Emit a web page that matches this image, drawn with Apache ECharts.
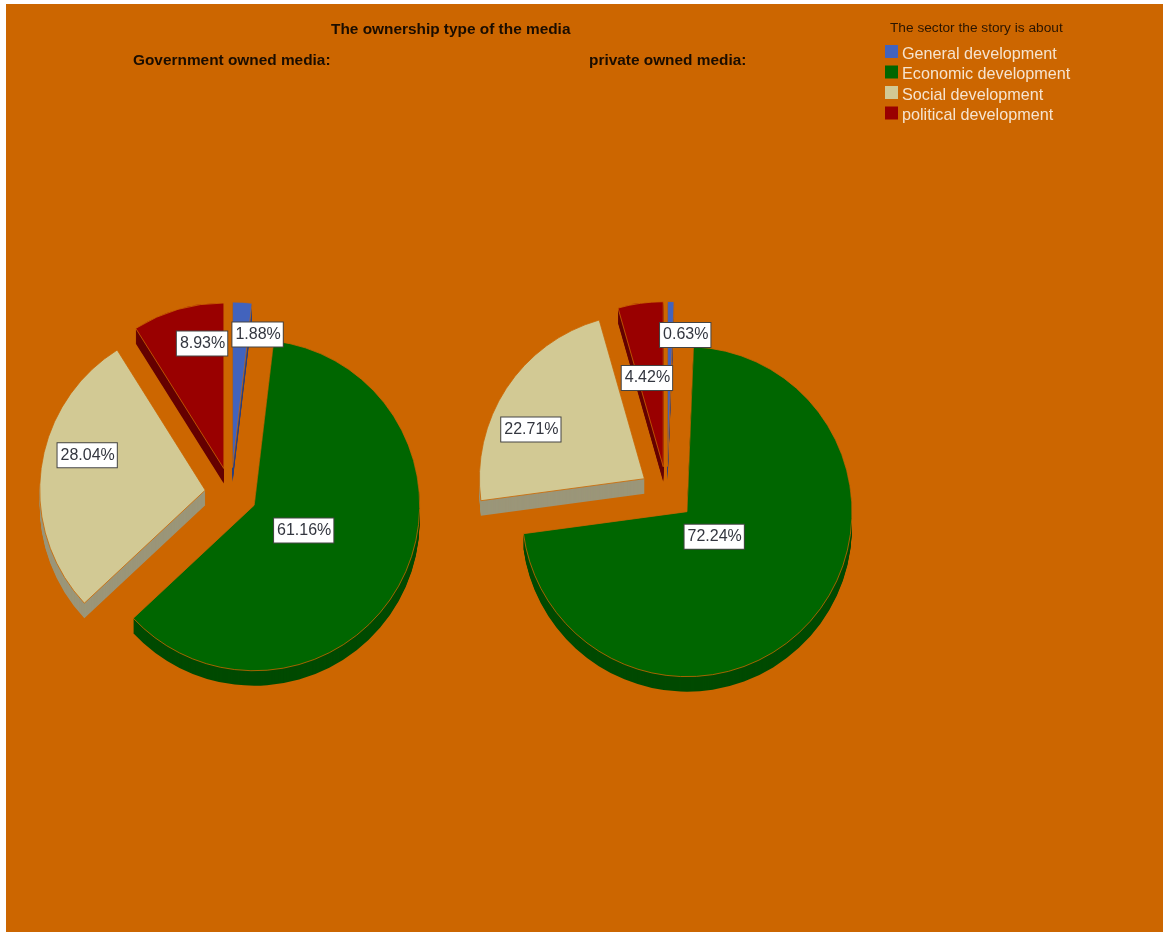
<!DOCTYPE html>
<html>
<head>
<meta charset="utf-8">
<title>The ownership type of the media</title>
<style>
  html, body { margin: 0; padding: 0; background: #ffffff; }
  #panel { position: absolute; left: 6px; top: 4px; width: 1157px; height: 928px; background: #cc6600; }
  #chart { position: absolute; left: 0; top: 0; width: 1163px; height: 932px; }
</style>
<script src="https://cdn.jsdelivr.net/npm/echarts@6/dist/echarts.min.js"></script>
</head>
<body>
<div id="panel"></div>
<div id="chart"></div>
<script>
// Share of stories per development sector, by media ownership type (percent).
const sectors = ['General development', 'Economic development', 'Social development', 'political development'];
const governmentShares = [1.88, 61.16, 28.04, 8.93];
const privateShares = [0.63, 72.24, 22.71, 4.42];

const topColors = ['#4263bd', '#006600', '#d2c994', '#990000'];
const wallColors = ['#2c4180', '#004a00', '#9b9679', '#650000'];

const DEPTH = 15;

const pies = [
  { name: 'Government owned media:', shares: governmentShares, center: [231, 493.5], radius: 165.5, explode: 26,
    labelShift: [[20, -47.5], [-27, -13.5], [-33, -24], [2, -42.5]] },
  { name: 'private owned media:', shares: privateShares, center: [667, 493.5], radius: 165, explode: 27,
    labelShift: [[16, -46], [-36, -32.5], [-42, -2.5], [-4.5, -4]] }
];

// One pie disc; every slice is pulled out of the centre through the selected state.
function disc(pie, yShift, colors, isTop) {
  return {
    type: 'pie',
    name: pie.name,
    z: isTop ? 5 : 2,
    silent: !isTop,
    animation: false,
    radius: [0, pie.radius],
    center: [pie.center[0], pie.center[1] + yShift],
    startAngle: 90,
    clockwise: true,
    avoidLabelOverlap: false,
    selectedMode: 'multiple',
    selectedOffset: pie.explode,
    itemStyle: isTop ? { borderColor: '#cc6600', borderWidth: 0.8 } : { borderWidth: 0 },
    emphasis: { scale: false },
    labelLine: { show: false },
    label: isTop ? {
      show: true,
      position: 'inside',
      formatter: p => p.value.toFixed(2) + '%',
      fontFamily: 'Liberation Sans',
      fontSize: 16,
      color: '#33363f',
      backgroundColor: '#ffffff',
      borderColor: '#444444',
      borderWidth: 1,
      padding: [4, 2, 4, 3]
    } : { show: false },
    labelLayout: isTop ? (p => ({ dx: pie.labelShift[p.dataIndex][0], dy: pie.labelShift[p.dataIndex][1] })) : undefined,
    data: sectors.map((name, i) => ({
      name,
      value: pie.shares[i],
      selected: true,
      itemStyle: { color: colors[i] }
    }))
  };
}

// Side walls are a stack of darker discs below the top surface.
const series = [];
pies.forEach(pie => {
  for (let k = DEPTH; k >= 1; k--) series.push(disc(pie, k, wallColors, false));
});
pies.forEach(pie => series.push(disc(pie, 0, topColors, true)));

const boldHeading = { fontFamily: 'Liberation Sans', fontSize: 15.4, fontWeight: 'bold', color: '#1a0d00' };

const chart = echarts.init(document.getElementById('chart'), null, { renderer: 'canvas' });
chart.setOption({
  backgroundColor: 'transparent',
  title: [
    { text: 'The ownership type of the media', left: 331, top: 22, padding: 0, textStyle: boldHeading },
    { text: pies[0].name, left: 133, top: 53, padding: 0, textStyle: boldHeading },
    { text: pies[1].name, left: 589, top: 53, padding: 0, textStyle: boldHeading },
    { text: 'The sector the story is about', left: 890, top: 21, padding: 0,
      textStyle: { fontFamily: 'Liberation Sans', fontSize: 13.7, fontWeight: 'normal', color: '#2a1500' } }
  ],
  legend: {
    orient: 'vertical',
    left: 885,
    top: 45,
    padding: 0,
    itemWidth: 13,
    itemHeight: 13,
    itemGap: 3,
    selectedMode: false,
    icon: 'rect',
    formatter: name => '{t|' + name + '}',
    textStyle: {
      padding: [0, 0, 0, -1],
      rich: { t: { fontFamily: 'Liberation Sans', fontSize: 16.2, color: '#f6e4cf', padding: [6, 0, 0, 0] } }
    },
    data: sectors.map((name, i) => ({ name, itemStyle: { color: topColors[i] } }))
  },
  series
});
</script>
</body>
</html>
